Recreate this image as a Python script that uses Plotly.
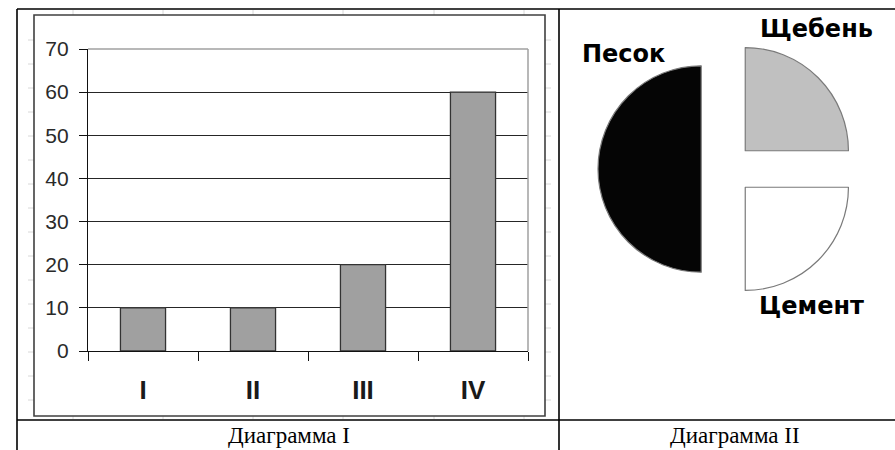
import plotly.graph_objects as go

# ---- data ----
categories = ["I", "II", "III", "IV"]
bar_values = [10, 10, 20, 60]
y_tick_values = [0, 10, 20, 30, 40, 50, 60, 70]

pie_labels = ["Щебень", "Цемент", "Песок"]
pie_values = [25, 25, 50]
pie_colors = ["#c0c0c0", "#ffffff", "#050505"]

captions = ["Диаграмма I", "Диаграмма II"]

W, H = 895, 450


def px(x):
    return x / W


def py(y):
    return 1 - y / H


fig = go.Figure()

fig.add_trace(go.Bar(
    x=categories, y=bar_values, width=0.41,
    marker=dict(color="#a0a0a0", line=dict(color="#333333", width=1.3)),
    xaxis="x", yaxis="y", showlegend=False, hoverinfo="x+y",
))

# pie: centre and size of domain
cx, cy, box = 727, 169, 258
fig.add_trace(go.Pie(
    labels=pie_labels, values=pie_values, sort=False, direction="clockwise",
    rotation=0, pull=[0.25, 0.25, 0.25],
    marker=dict(colors=pie_colors, line=dict(color="#7a7a7a", width=1.2)),
    textinfo="none", showlegend=False, automargin=False,
    domain=dict(x=[px(cx - box / 2), px(cx + box / 2)],
                y=[py(cy + box / 2), py(cy - box / 2)]),
))

fig.update_layout(
    width=W, height=H, margin=dict(l=0, r=0, t=0, b=0, pad=0, autoexpand=False),
    paper_bgcolor="white", plot_bgcolor="white",
    font=dict(family="Liberation Sans, Arial, sans-serif", color="#222222"),
    xaxis=dict(
        domain=[px(88), px(528)], anchor="y", type="category", automargin=False,
        showline=True, linecolor="#111111", linewidth=1.2,
        ticks="outside", ticklen=9, tickcolor="#111111", tickwidth=1.2,
        tickson="boundaries", showgrid=False, zeroline=False,
        ticklabelstandoff=16,
        tickfont=dict(size=26, family="Liberation Sans, Arial, sans-serif",
                      color="#1a1a1a", weight="bold"),
    ),
    yaxis=dict(
        domain=[py(351), py(49)], anchor="x", range=[0, 70], automargin=False,
        tickvals=y_tick_values,
        showline=True, linecolor="#111111", linewidth=1.2,
        ticks="outside", ticklen=8, tickcolor="#111111", tickwidth=1.2,
        showgrid=True, gridcolor="#262626", gridwidth=1.2, zeroline=False,
        ticklabelstandoff=6,
        tickfont=dict(size=21, color="#2a2a2a"),
    ),
    bargap=0.59,
)

shapes = []
# gray top and right border of the plot area
shapes.append(dict(type="line", xref="x domain", yref="y domain", x0=0, x1=1, y0=1, y1=1,
                   line=dict(color="#a0a0a0", width=1.5), layer="above"))
shapes.append(dict(type="line", xref="x domain", yref="y domain", x0=1, x1=1, y0=0, y1=1,
                   line=dict(color="#a0a0a0", width=1.5), layer="above"))
# chart frame
shapes.append(dict(type="rect", xref="paper", yref="paper",
                   x0=px(34), x1=px(545), y0=py(416), y1=py(15),
                   line=dict(color="#404040", width=1.6)))
# table lines
tbl = dict(color="#000000", width=1.6)
shapes.append(dict(type="line", xref="paper", yref="paper", x0=px(17), x1=1, y0=py(9), y1=py(9), line=tbl))
shapes.append(dict(type="line", xref="paper", yref="paper", x0=px(17), x1=px(17), y0=py(9), y1=0, line=tbl))
shapes.append(dict(type="line", xref="paper", yref="paper", x0=px(559), x1=px(559), y0=py(9), y1=0, line=tbl))
shapes.append(dict(type="line", xref="paper", yref="paper", x0=px(17), x1=1, y0=py(420), y1=py(420), line=tbl))
# faint spreadsheet cell lines around chart frame
faint = dict(color="#d8d8d8", width=1)
for xv in [73, 163, 253, 343, 434, 524]:
    shapes.append(dict(type="line", xref="paper", yref="paper", x0=px(xv), x1=px(xv),
                       y0=py(10), y1=py(15), line=faint, layer="below"))
    shapes.append(dict(type="line", xref="paper", yref="paper", x0=px(xv), x1=px(xv),
                       y0=py(416), y1=py(419), line=faint, layer="below"))
for yv in range(40, 416, 24):
    shapes.append(dict(type="line", xref="paper", yref="paper", x0=px(28), x1=px(34),
                       y0=py(yv), y1=py(yv), line=faint, layer="below"))
    shapes.append(dict(type="line", xref="paper", yref="paper", x0=px(545), x1=px(551),
                       y0=py(yv), y1=py(yv), line=faint, layer="below"))
fig.update_layout(shapes=shapes)

ann = []
label_pos = {"Щебень": (816, 29), "Цемент": (811, 306), "Песок": (623, 54)}
for lab in pie_labels:
    x, y = label_pos[lab]
    ann.append(dict(x=px(x), y=py(y), xref="paper", yref="paper", text=lab, showarrow=False,
                    xanchor="center", yanchor="middle",
                    font=dict(family="DejaVu Sans, sans-serif", size=24, color="#000000",
                              weight="bold")))
for cap, x in zip(captions, [289, 735]):
    ann.append(dict(x=px(x), y=py(435), xref="paper", yref="paper", text=cap, showarrow=False,
                    xanchor="center", yanchor="middle",
                    font=dict(family="Liberation Serif, Times New Roman, serif", size=23,
                              color="#000000")))
fig.update_layout(annotations=ann)

fig.write_html(
    "out.html",
    config={"displayModeBar": False},
    post_script="document.body.style.margin='0';document.body.style.overflow='hidden';",
)
